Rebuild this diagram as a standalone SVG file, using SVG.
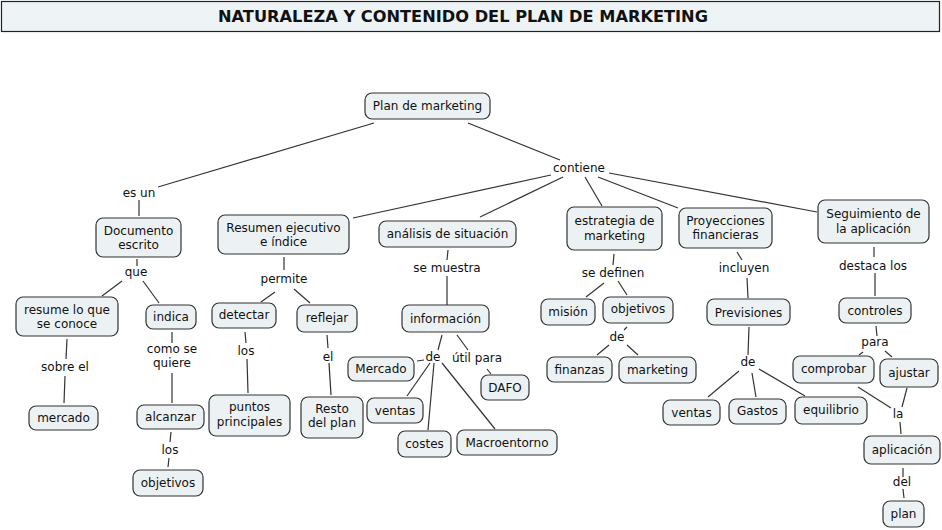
<svg xmlns="http://www.w3.org/2000/svg" width="942" height="530" viewBox="0 0 942 530">
<style>
.n rect{fill:#ECF2F4;stroke:#333;stroke-width:1.2}
text{font-family:"DejaVu Sans",Verdana,sans-serif;font-size:12px;fill:#111;text-anchor:middle}
.t{font-family:"DejaVu Sans",Verdana,sans-serif;font-weight:bold;font-size:15px}
#links line{stroke:#333;stroke-width:1.2}
</style>
<rect width="942" height="530" fill="#fff"/>
<g id="title">
<rect x="1.5" y="1.5" width="938" height="30" fill="#EEF3F5" stroke="#222" stroke-width="1.2"/>
<text class="t" x="463" y="22" textLength="490" lengthAdjust="spacingAndGlyphs">NATURALEZA Y CONTENIDO DEL PLAN DE MARKETING</text>
</g>
<g id="links">
<line x1="374" y1="123" x2="158" y2="187"/>
<line x1="139" y1="200" x2="139" y2="216"/>
<line x1="137" y1="259" x2="137" y2="266"/>
<line x1="122" y1="281" x2="102" y2="296"/>
<line x1="143" y1="281" x2="159" y2="303"/>
<line x1="67" y1="339" x2="66" y2="359"/>
<line x1="65" y1="376" x2="64" y2="403"/>
<line x1="172" y1="332" x2="172" y2="343"/>
<line x1="172" y1="373" x2="172" y2="403"/>
<line x1="171" y1="432" x2="170" y2="442"/>
<line x1="169" y1="458" x2="168" y2="467"/>
<line x1="468" y1="123" x2="560" y2="160"/>
<line x1="551" y1="175" x2="353" y2="218"/>
<line x1="563" y1="177" x2="480" y2="217"/>
<line x1="585" y1="177" x2="602" y2="206"/>
<line x1="598" y1="177" x2="678" y2="208"/>
<line x1="609" y1="173" x2="817" y2="212"/>
<line x1="284" y1="257" x2="284" y2="270"/>
<line x1="275" y1="292" x2="261" y2="302"/>
<line x1="294" y1="289" x2="310" y2="303"/>
<line x1="245" y1="332" x2="246" y2="343"/>
<line x1="247" y1="359" x2="248" y2="393"/>
<line x1="327" y1="335" x2="328" y2="348"/>
<line x1="329" y1="363" x2="331" y2="395"/>
<line x1="448" y1="250" x2="447" y2="260"/>
<line x1="447" y1="276" x2="447" y2="305"/>
<line x1="442" y1="335" x2="438" y2="350"/>
<line x1="457" y1="335" x2="468" y2="350"/>
<line x1="487" y1="369" x2="491" y2="374"/>
<line x1="424" y1="360" x2="417" y2="361"/>
<line x1="430" y1="363" x2="407" y2="396"/>
<line x1="434" y1="363" x2="428" y2="430"/>
<line x1="442" y1="363" x2="495" y2="429"/>
<line x1="614" y1="254" x2="613" y2="265"/>
<line x1="604" y1="283" x2="586" y2="297"/>
<line x1="618" y1="281" x2="627" y2="295"/>
<line x1="627" y1="327" x2="624" y2="330"/>
<line x1="609" y1="345" x2="597" y2="355"/>
<line x1="627" y1="345" x2="638" y2="355"/>
<line x1="737" y1="252" x2="742" y2="260"/>
<line x1="747" y1="278" x2="748" y2="298"/>
<line x1="749" y1="327" x2="748" y2="355"/>
<line x1="739" y1="371" x2="708" y2="397"/>
<line x1="752" y1="373" x2="756" y2="397"/>
<line x1="759" y1="369" x2="805" y2="396"/>
<line x1="874" y1="247" x2="874" y2="257"/>
<line x1="875" y1="273" x2="875" y2="296"/>
<line x1="876" y1="326" x2="877" y2="336"/>
<line x1="863" y1="352" x2="859" y2="355"/>
<line x1="885" y1="351" x2="892" y2="357"/>
<line x1="858" y1="387" x2="891" y2="408"/>
<line x1="907" y1="388" x2="902" y2="407"/>
<line x1="900" y1="422" x2="901" y2="434"/>
<line x1="903" y1="468" x2="903" y2="477"/>
<line x1="903" y1="489" x2="904" y2="498"/>
</g>
<g id="labels">
<text x="139" y="197">es un</text>
<text x="136" y="276">que</text>
<text x="579" y="172">contiene</text>
<text x="284" y="283">permite</text>
<text x="447" y="272">se muestra</text>
<text x="613" y="277">se definen</text>
<text x="744" y="272">incluyen</text>
<text x="873" y="270">destaca los</text>
<text x="65" y="371">sobre el</text>
<text x="172" y="353">como se</text>
<text x="172" y="367">quiere</text>
<text x="246" y="355">los</text>
<text x="328" y="361">el</text>
<text x="170" y="454">los</text>
<text x="433" y="361">de</text>
<text x="477" y="362">útil para</text>
<text x="617" y="341">de</text>
<text x="748" y="366">de</text>
<text x="875" y="346">para</text>
<text x="898" y="418">la</text>
<text x="902" y="486">del</text>
</g>
<g id="n-plan" class="n"><rect x="365" y="93" width="125" height="26" rx="7"/><text x="427.5" y="110">Plan de marketing</text></g>
<g id="n-documento" class="n"><rect x="96" y="218" width="85" height="39" rx="7"/><text x="138.5" y="235">Documento</text><text x="138.5" y="249">escrito</text></g>
<g id="n-resumen" class="n"><rect x="218" y="215" width="131" height="39" rx="7"/><text x="283.5" y="232">Resumen ejecutivo</text><text x="283.5" y="246">e índice</text></g>
<g id="n-analisis" class="n"><rect x="379" y="221" width="137" height="26" rx="7"/><text x="447.5" y="238">análisis de situación</text></g>
<g id="n-estrategia" class="n"><rect x="567" y="207" width="95" height="43" rx="7"/><text x="614.5" y="225">estrategia de</text><text x="614.5" y="240">marketing</text></g>
<g id="n-proyecciones" class="n"><rect x="679" y="208" width="93" height="40" rx="7"/><text x="725.5" y="225">Proyecciones</text><text x="725.5" y="239">financieras</text></g>
<g id="n-seguimiento" class="n"><rect x="818" y="200" width="111" height="43" rx="7"/><text x="873.5" y="218">Seguimiento de</text><text x="873.5" y="233">la aplicación</text></g>
<g id="n-resume" class="n"><rect x="16" y="297" width="102" height="39" rx="7"/><text x="67" y="314">resume lo que</text><text x="67" y="328">se conoce</text></g>
<g id="n-indica" class="n"><rect x="146" y="305" width="50" height="24" rx="7"/><text x="171" y="321">indica</text></g>
<g id="n-detectar" class="n"><rect x="212" y="303" width="64" height="25" rx="7"/><text x="244" y="319">detectar</text></g>
<g id="n-reflejar" class="n"><rect x="297" y="305" width="60" height="27" rx="7"/><text x="327" y="322">reflejar</text></g>
<g id="n-informacion" class="n"><rect x="402" y="305" width="87" height="27" rx="7"/><text x="445.5" y="323">información</text></g>
<g id="n-mision" class="n"><rect x="541" y="299" width="54" height="26" rx="7"/><text x="568" y="316">misión</text></g>
<g id="n-objetivos2" class="n"><rect x="603" y="297" width="70" height="26" rx="7"/><text x="638" y="313">objetivos</text></g>
<g id="n-previsiones" class="n"><rect x="707" y="299" width="83" height="26" rx="7"/><text x="748.5" y="317">Previsiones</text></g>
<g id="n-controles" class="n"><rect x="839" y="298" width="72" height="25" rx="7"/><text x="875" y="315">controles</text></g>
<g id="n-mercado" class="n"><rect x="29" y="406" width="69" height="24" rx="7"/><text x="63.5" y="422">mercado</text></g>
<g id="n-alcanzar" class="n"><rect x="137" y="405" width="67" height="24" rx="7"/><text x="170.5" y="421">alcanzar</text></g>
<g id="n-puntos" class="n"><rect x="209" y="395" width="81" height="41" rx="7"/><text x="249.5" y="411">puntos</text><text x="249.5" y="426">principales</text></g>
<g id="n-resto" class="n"><rect x="301" y="397" width="62" height="41" rx="7"/><text x="332" y="413">Resto</text><text x="332" y="427">del plan</text></g>
<g id="n-objetivos1" class="n"><rect x="133" y="470" width="70" height="26" rx="7"/><text x="168" y="487">objetivos</text></g>
<g id="n-mercado2" class="n"><rect x="348" y="357" width="66" height="24" rx="7"/><text x="381" y="373">Mercado</text></g>
<g id="n-dafo" class="n"><rect x="481" y="375" width="48" height="25" rx="7"/><text x="505" y="392">DAFO</text></g>
<g id="n-ventas1" class="n"><rect x="367" y="398" width="56" height="25" rx="7"/><text x="395" y="415">ventas</text></g>
<g id="n-costes" class="n"><rect x="398" y="431" width="53" height="26" rx="7"/><text x="424.5" y="448">costes</text></g>
<g id="n-macro" class="n"><rect x="457" y="430" width="100" height="25" rx="7"/><text x="507" y="447">Macroentorno</text></g>
<g id="n-finanzas" class="n"><rect x="547" y="357" width="65" height="25" rx="7"/><text x="579.5" y="374">finanzas</text></g>
<g id="n-marketing" class="n"><rect x="619" y="357" width="77" height="26" rx="7"/><text x="657.5" y="374">marketing</text></g>
<g id="n-ventas2" class="n"><rect x="663" y="400" width="57" height="25" rx="7"/><text x="691.5" y="417">ventas</text></g>
<g id="n-gastos" class="n"><rect x="729" y="399" width="57" height="25" rx="7"/><text x="757.5" y="415">Gastos</text></g>
<g id="n-equilibrio" class="n"><rect x="795" y="397" width="72" height="27" rx="7"/><text x="831" y="414">equilibrio</text></g>
<g id="n-comprobar" class="n"><rect x="793" y="356" width="81" height="27" rx="7"/><text x="833.5" y="373">comprobar</text></g>
<g id="n-ajustar" class="n"><rect x="880" y="359" width="58" height="28" rx="7"/><text x="909" y="377">ajustar</text></g>
<g id="n-aplicacion" class="n"><rect x="864" y="436" width="76" height="28" rx="7"/><text x="902" y="454">aplicación</text></g>
<g id="n-plan2" class="n"><rect x="883" y="501" width="41" height="26" rx="7"/><text x="903.5" y="518">plan</text></g>
</svg>
